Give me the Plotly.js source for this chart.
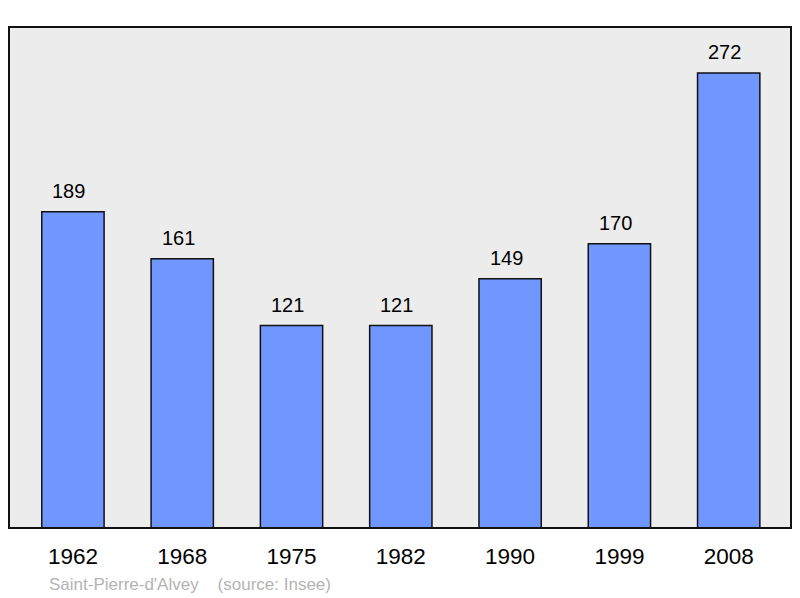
<!DOCTYPE html>
<html><head><meta charset="utf-8">
<script src="https://cdn.plot.ly/plotly-3.0.1.min.js"></script>
<style>html,body{margin:0;padding:0;background:#fff}#chart{width:800px;height:598px}</style>
</head><body><div id="chart"></div>
<script>
const years = ["1962","1968","1975","1982","1990","1999","2008"];
const population = [189,161,121,121,149,170,272];
const footer = "Saint-Pierre-d'Alvey&nbsp;&nbsp;&nbsp;&nbsp;(source: Insee)";

const trace = {
  type: 'bar', x: years, y: population, width: 0.57,
  marker: {color: '#7097ff', line: {color: '#111', width: 1.5}},
  hoverinfo: 'none'
};
const annotations = years.map((yr, i) => ({
  x: i, y: population[i], xref: 'x', yref: 'y', text: String(population[i]),
  showarrow: false, yanchor: 'bottom', yshift: 8, xshift: -4,
  font: {family: 'Liberation Sans, Arial, sans-serif', size: 20, color: '#000'}
}));
annotations.push({
  xref: 'paper', yref: 'paper', x: 38/782, y: -56/501, xanchor: 'left', yanchor: 'middle',
  text: footer, showarrow: false,
  font: {family: 'Liberation Sans, Arial, sans-serif', size: 17, color: '#b3b3b3'}
});
const layout = {
  width: 800, height: 598,
  margin: {l: 9, r: 9, t: 27, b: 70},
  paper_bgcolor: '#fff', plot_bgcolor: '#ececec',
  showlegend: false,
  xaxis: {type: 'category', range: [-0.585, 6.57], showgrid: false, zeroline: false,
    ticks: 'outside', ticklen: 8, tickcolor: 'rgba(0,0,0,0)', showline: false,
    tickfont: {family: 'Liberation Sans, Arial, sans-serif', size: 22.5, color: '#000'}},
  yaxis: {range: [0, 299.5], showgrid: false, zeroline: false, showticklabels: false, showline: false},
  shapes: [{type: 'rect', xref: 'paper', yref: 'paper', x0: 0, x1: 1, y0: 0, y1: 1,
    line: {color: '#111', width: 2}, fillcolor: 'rgba(0,0,0,0)', layer: 'above'}],
  annotations: annotations
};
Plotly.newPlot('chart', [trace], layout, {staticPlot: true, displayModeBar: false});
</script></body></html>
